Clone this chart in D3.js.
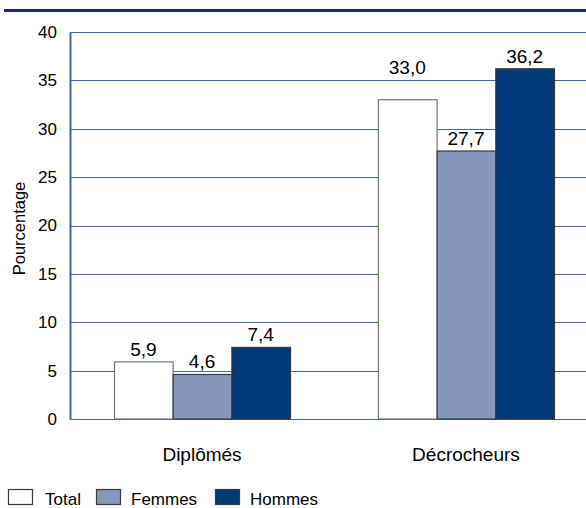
<!DOCTYPE html>
<html>
<head>
<meta charset="utf-8">
<script src="https://cdn.jsdelivr.net/npm/d3@7"></script>
<style>
  body { margin: 0; background: #fff; }
  svg { display: block; font-family: "Liberation Sans", Arial, sans-serif; }
</style>
</head>
<body>
<svg id="chart" width="586" height="508"></svg>
<script>
const categories = ["Diplômés", "Décrocheurs"];
const seriesNames = ["Total", "Femmes", "Hommes"];
const totalValues = [5.9, 33.0];
const femmesValues = [4.6, 27.7];
const hommesValues = [7.4, 36.2];
const yTicks = [0, 5, 10, 15, 20, 25, 30, 35, 40];
const yTitle = "Pourcentage";

const seriesValues = [totalValues, femmesValues, hommesValues];
const fills = ["#ffffff", "#8796bd", "#003a78"];
const strokes = ["#747474", "#3a3a3a", "#3a3a3a"];
const fmt = v => v.toFixed(1).replace(".", ",");

const svg = d3.select("#chart");
const plotLeft = 70, plotRight = 598, plotTop = 32, plotBottom = 419;

// header rule
svg.append("rect").attr("x", 4).attr("y", 9).attr("width", 582).attr("height", 3).attr("fill", "#1b2a66");

const x0 = d3.scaleBand().domain(categories).range([plotLeft, plotRight]).paddingInner(0.333).paddingOuter(0.1667);
const x1 = d3.scaleBand().domain(seriesNames).range([0, x0.bandwidth()]);
const y = d3.scaleLinear().domain([0, 40]).range([plotBottom, plotTop]);
const gridY = d => Math.round(y(d)) + 0.5;

// grid lines
svg.append("g").selectAll("line").data(yTicks).join("line")
  .attr("x1", plotLeft).attr("x2", 586)
  .attr("y1", gridY).attr("y2", gridY)
  .attr("stroke", "#3f68a3").attr("stroke-width", 1);

// y axis
const yAxis = svg.append("g").attr("transform", `translate(${plotLeft},0)`)
  .call(d3.axisLeft(y).tickValues(yTicks).tickSize(0).tickPadding(13));
yAxis.select(".domain").attr("stroke", "#3f68a3").attr("stroke-width", 2);
yAxis.selectAll("text").attr("font-size", 17).attr("fill", "#000")
  .attr("font-family", "Liberation Sans, Arial, sans-serif");

svg.append("text")
  .attr("transform", `translate(24.5,${(plotTop + plotBottom) / 2 + 3}) rotate(-90)`)
  .attr("text-anchor", "middle").attr("font-size", 16.5).attr("fill", "#000")
  .text(yTitle);

// bars
const labelSize = 19, capH = 0.72 * labelSize, gap = 6;
const groups = svg.append("g").selectAll("g").data(categories).join("g")
  .attr("transform", d => `translate(${x0(d)},0)`);

groups.each(function(cat, ci) {
  const g = d3.select(this);
  seriesNames.forEach((s, si) => {
    const v = seriesValues[si][ci];
    g.append("rect")
      .attr("x", x1(s) + 0.5).attr("y", y(v))
      .attr("width", x1.bandwidth()).attr("height", y(0) - y(v))
      .attr("fill", fills[si])
      .attr("stroke", strokes[si]).attr("stroke-width", 1.2);
    // value label sits above the bar; if it would be crossed by a grid line, lift it above that line
    let base = y(v) - gap;
    const crossing = yTicks.map(gridY).find(gy => gy > base - capH && gy < base);
    if (crossing !== undefined) base = crossing - 7;
    g.append("text")
      .attr("x", x1(s) + x1.bandwidth() / 2).attr("y", base)
      .attr("text-anchor", "middle").attr("font-size", labelSize).attr("fill", "#000")
      .text(fmt(v));
  });
});

// category labels
svg.append("g").selectAll("text").data(categories).join("text")
  .attr("x", d => x0(d) + x0.bandwidth() / 2).attr("y", 461)
  .attr("text-anchor", "middle").attr("font-size", 19).attr("fill", "#000")
  .text(d => d);

// legend
const legendX = [8, 96, 215];
const lg = svg.append("g").selectAll("g").data(seriesNames).join("g")
  .attr("transform", (d, i) => `translate(${legendX[i]},489)`);
lg.append("rect").attr("x", 0.5).attr("y", 0.5).attr("width", 24).attr("height", 15)
  .attr("fill", (d, i) => fills[i]).attr("stroke", "#3a3a3a").attr("stroke-width", 1.2);
lg.append("text").attr("x", (d, i) => i === 0 ? 37 : 35).attr("y", 16)
  .attr("font-size", 17).attr("fill", "#000").text(d => d);
</script>
</body>
</html>
